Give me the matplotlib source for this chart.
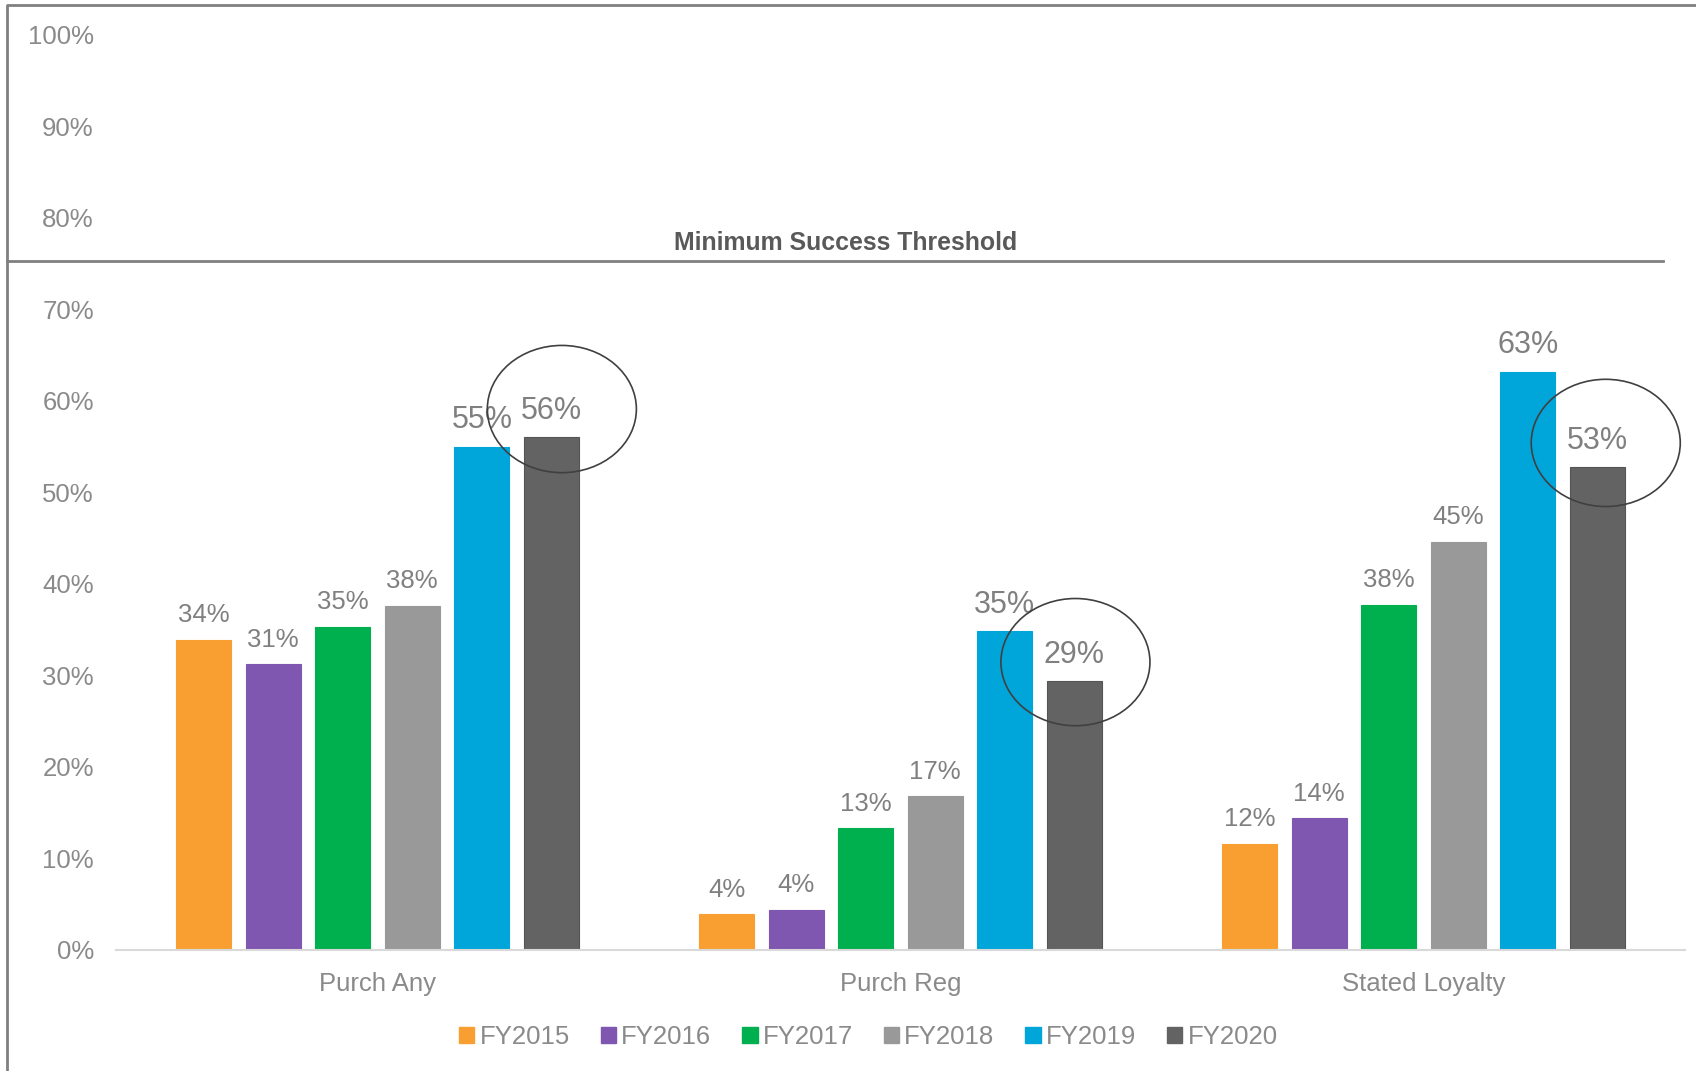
import numpy as np
import matplotlib.pyplot as plt
import matplotlib.transforms as mtransforms
from matplotlib.patches import Ellipse
from matplotlib.lines import Line2D

plt.rcParams['font.family'] = ['Liberation Sans', 'DejaVu Sans']

# --- data ---
categories = ["Purch Any", "Purch Reg", "Stated Loyalty"]
years = ["FY2015", "FY2016", "FY2017", "FY2018", "FY2019", "FY2020"]
fy2015 = [0.339, 0.039, 0.116]
fy2016 = [0.312, 0.044, 0.144]
fy2017 = [0.353, 0.133, 0.377]
fy2018 = [0.376, 0.168, 0.446]
fy2019 = [0.550, 0.348, 0.632]
fy2020 = [0.560, 0.294, 0.528]
series = [fy2015, fy2016, fy2017, fy2018, fy2019, fy2020]
threshold = 0.753
threshold_label = "Minimum Success Threshold"

colors = ["#F99F32", "#7F56B0", "#00B04F", "#999999", "#00A5DA", "#636363"]
text_gray = "#8a8a8a"

# hand-drawn circles: shift from the FY2020 bar top (x in category units, y in fraction)
circle_dx = [0.020, 0.002, 0.016]
circle_dy = [0.031, 0.0205, 0.026]

fig = plt.figure(figsize=(16.96, 10.71), dpi=100)
ax = fig.add_axes([0.0684, 0.1130, 0.9251, 0.8546])

x = np.arange(len(categories))
width = 0.105
step = 0.133

for i, (name, vals) in enumerate(zip(years, series)):
    xs = x + (i - 2.5) * step
    edge = "#555555" if i == 5 else colors[i]
    bars = ax.bar(xs, vals, width, color=colors[i], edgecolor=edge,
                  linewidth=0.8, label=name, zorder=2)
    big = i >= 4
    for b, v in zip(bars, vals):
        ax.annotate(f"{v:.0%}", (b.get_x() + b.get_width() / 2, v),
                    xytext=(0, 8 if big else 9), textcoords="offset points",
                    ha="center", va="bottom", color="#808080",
                    fontsize=22 if big else 18.5, zorder=4)

# circles around FY2020 results
for xc, v, dx, dy in zip(x + 2.5 * step, fy2020, circle_dx, circle_dy):
    ax.add_patch(Ellipse((xc + dx, v + dy), 0.285, 0.139, fill=False,
                         edgecolor="#404040", linewidth=1.2, zorder=5,
                         clip_on=False))

ax.set_xlim(-0.5, 2.5)
ax.set_ylim(0, 1.0)
ax.set_yticks(np.arange(0, 1.01, 0.1))
ax.set_yticklabels([f"{t:.0%}" for t in np.arange(0, 1.01, 0.1)])
ax.set_xticks(x)
ax.set_xticklabels(categories)
ax.tick_params(axis="both", length=0, labelsize=18.5, labelcolor=text_gray)
ax.tick_params(axis="y", pad=16)
ax.tick_params(axis="x", pad=16)
for s in ["top", "right", "left"]:
    ax.spines[s].set_visible(False)
ax.spines["bottom"].set_color("#d9d9d9")
ax.spines["bottom"].set_linewidth(1.5)

# threshold line across the chart frame
trans = mtransforms.blended_transform_factory(fig.transFigure, ax.transData)
ax.add_line(Line2D([0.0041, 0.9805], [threshold, threshold], transform=trans,
                   color="#808080", linewidth=2, clip_on=False, zorder=3))
fig.text(0.4988, 0.773, threshold_label, ha="center", va="center",
         fontsize=17.9, fontweight="bold", color="#595959")

# outer frame (left and top)
fig.add_artist(Line2D([0.0041, 0.0041, 1.0], [0.0, 0.9953, 0.9953],
                      transform=fig.transFigure, color="#808080", linewidth=2))

handles = [plt.Rectangle((0, 0), 1, 1, color=c) for c in colors]
leg = fig.legend(handles, years, loc="center", bbox_to_anchor=(0.512, 0.0316),
                 ncol=6, frameon=False, fontsize=18.5, handlelength=0.6,
                 handleheight=0.6, handletextpad=0.2, columnspacing=1.2)
for t in leg.get_texts():
    t.set_color(text_gray)

fig.savefig("out.png", dpi=100)
